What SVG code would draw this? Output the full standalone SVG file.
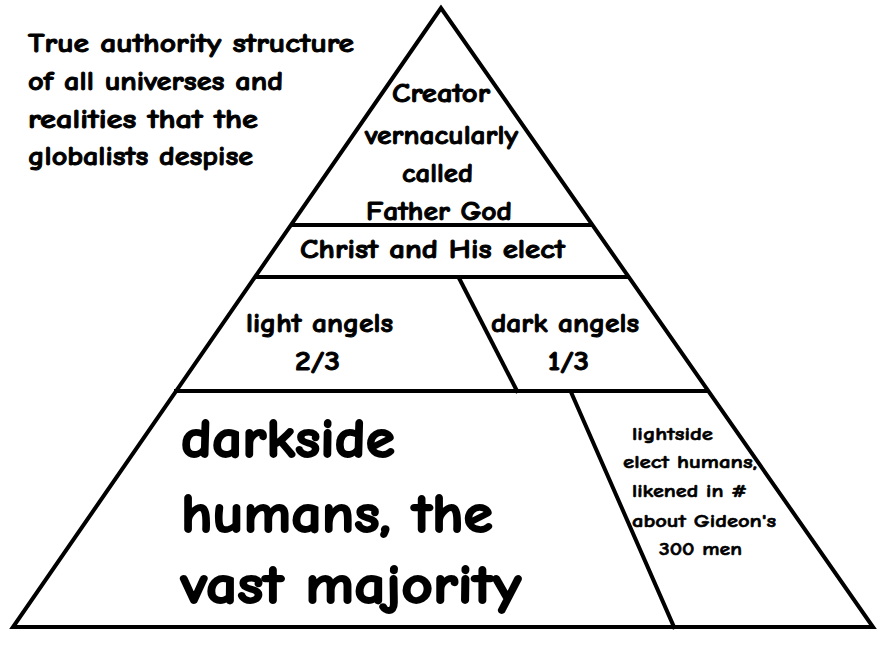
<svg xmlns="http://www.w3.org/2000/svg" width="882" height="656" viewBox="0 0 882 656">
<style>
.t{font-family:"Comic Sans MS","Comic Neue","Open Sans","DejaVu Sans",sans-serif;font-weight:bold;fill:#000;stroke:#000;stroke-linejoin:round}
.m{font-size:26px;stroke-width:0.9px}
.s{font-size:19px;stroke-width:0.6px}
.b{font-size:54px;stroke-width:1.8px}
.ln{stroke:#000;stroke-width:4;fill:none;stroke-linecap:square;stroke-linejoin:miter}
</style>
<rect width="882" height="656" fill="#fff"/>
<g id="title">
<text class="t m" x="28" y="52" textLength="326" lengthAdjust="spacingAndGlyphs">True authority structure</text>
<text class="t m" x="28" y="90" textLength="255" lengthAdjust="spacingAndGlyphs">of all universes and</text>
<text class="t m" x="28" y="128" textLength="230" lengthAdjust="spacingAndGlyphs">realities that the</text>
<text class="t m" x="28" y="165" textLength="225" lengthAdjust="spacingAndGlyphs">globalists despise</text>
</g>
<g id="connectors">
<polygon class="ln" points="441,8 13,627 873,627"/>
<line class="ln" x1="292" y1="225" x2="591" y2="225"/>
<line class="ln" x1="256" y1="277" x2="627" y2="277"/>
<line class="ln" x1="176" y1="391" x2="707" y2="391"/>
<line class="ln" x1="459" y1="278" x2="517" y2="391"/>
<line class="ln" x1="571" y1="392" x2="674" y2="627"/>
</g>
<g id="creator">
<text class="t m" x="392" y="102" textLength="98" lengthAdjust="spacingAndGlyphs">Creator</text>
<text class="t m" x="365" y="144" textLength="153" lengthAdjust="spacingAndGlyphs">vernacularly</text>
<text class="t m" x="402" y="182" textLength="71" lengthAdjust="spacingAndGlyphs">called</text>
<text class="t m" x="366" y="220" textLength="146" lengthAdjust="spacingAndGlyphs">Father God</text>
</g>
<g id="christ">
<text class="t m" x="300" y="258" textLength="265" lengthAdjust="spacingAndGlyphs">Christ and His elect</text>
</g>
<g id="light-angels">
<text class="t m" x="246" y="332" textLength="147" lengthAdjust="spacingAndGlyphs">light angels</text>
<text class="t m" x="295" y="370" textLength="45" lengthAdjust="spacingAndGlyphs">2/3</text>
</g>
<g id="dark-angels">
<text class="t m" x="491" y="332" textLength="148" lengthAdjust="spacingAndGlyphs">dark angels</text>
<text class="t m" x="548" y="370" textLength="41" lengthAdjust="spacingAndGlyphs">1/3</text>
</g>
<g id="darkside">
<text class="t b" x="181" y="457" textLength="214" lengthAdjust="spacingAndGlyphs">darkside</text>
<text class="t b" x="181" y="532" textLength="312" lengthAdjust="spacingAndGlyphs">humans, the</text>
<text class="t b" x="181" y="603" textLength="340" lengthAdjust="spacingAndGlyphs">vast majority</text>
</g>
<g id="lightside">
<text class="t s" x="632" y="440" textLength="81" lengthAdjust="spacingAndGlyphs">lightside</text>
<text class="t s" x="623" y="468" textLength="134" lengthAdjust="spacingAndGlyphs">elect humans,</text>
<text class="t s" x="632" y="497" textLength="115" lengthAdjust="spacingAndGlyphs">likened in #</text>
<text class="t s" x="632" y="527" textLength="144" lengthAdjust="spacingAndGlyphs">about Gideon's</text>
<text class="t s" x="659" y="555" textLength="83" lengthAdjust="spacingAndGlyphs">300 men</text>
</g>
</svg>
